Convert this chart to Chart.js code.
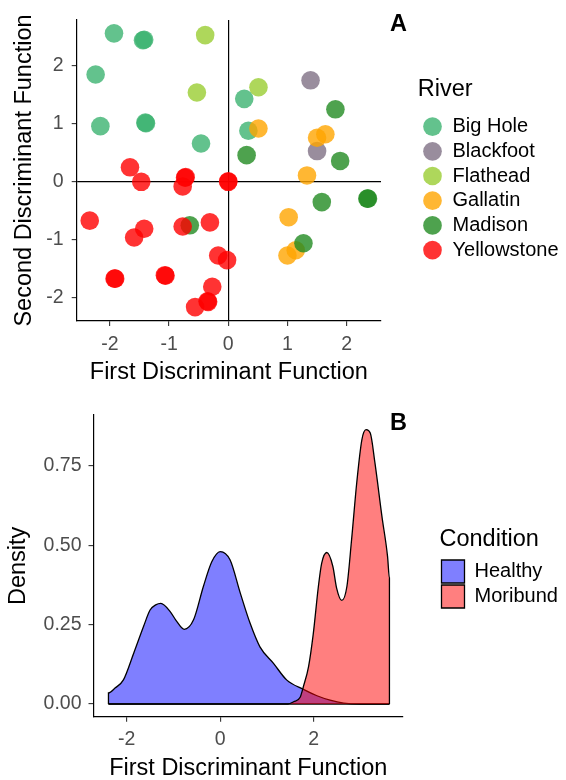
<!DOCTYPE html>
<html>
<head>
<meta charset="utf-8">
<script src="https://cdn.jsdelivr.net/npm/chart.js@4.4.1/dist/chart.umd.min.js"></script>
<style>
  html, body { margin: 0; padding: 0; background: #fff; width: 566px; height: 780px; overflow: hidden; }
  .panel { position: absolute; left: 0; width: 566px; height: 390px; }
</style>
</head>
<body>
<div class="panel" style="top:0"><canvas id="chartA" width="566" height="390"></canvas></div>
<div class="panel" style="top:390px"><canvas id="chartB" width="566" height="390"></canvas></div>
<script>
// Panel A: discriminant scores by river
const riverNames = ["Big Hole", "Blackfoot", "Flathead", "Gallatin", "Madison", "Yellowstone"];
const riverColors = ["rgba(60,179,113,0.8)", "rgba(128,112,132,0.8)", "rgba(154,205,50,0.8)",
                     "rgba(255,165,0,0.8)", "rgba(34,139,34,0.8)", "rgba(255,0,0,0.8)"];

const bigHole = [[-1.93, 2.55], [-2.24, 1.84], [-2.16, 0.95], [-1.44, 2.43], [-1.42, 2.44],
                 [-1.40, 1.01], [-1.39, 1.00], [-0.46, 0.65], [0.27, 1.42], [0.34, 0.87]];
const blackfoot = [[1.39, 1.74], [1.50, 0.52]];
const flathead = [[-0.39, 2.52], [-0.53, 1.53], [0.51, 1.62]];
const gallatin = [[0.51, 0.91], [1.64, 0.81], [1.50, 0.75], [1.33, 0.10], [1.02, -0.62],
                  [1.00, -1.28], [1.14, -1.19]];
const madison = [[1.81, 1.24], [0.31, 0.45], [1.89, 0.35], [1.58, -0.36], [2.35, -0.30],
                 [2.36, -0.30], [1.27, -1.07], [-0.65, -0.76]];
const yellowstone = [[-1.66, 0.24], [-1.47, -0.01], [-0.72, 0.07], [-0.73, 0.06], [-0.77, -0.09],
                     [0.00, -0.01], [0.00, 0.00], [-2.34, -0.68], [-1.59, -0.97], [-1.42, -0.82],
                     [-0.77, -0.78], [-0.31, -0.71], [-0.17, -1.28], [-0.02, -1.36], [-1.91, -1.68],
                     [-1.92, -1.68], [-1.06, -1.63], [-1.07, -1.62], [-0.27, -1.82], [-0.34, -2.08],
                     [-0.35, -2.07], [-0.56, -2.17]];
const riverPoints = [bigHole, blackfoot, flathead, gallatin, madison, yellowstone];
const scoreTicks = [-2, -1, 0, 1, 2];

// Panel B: density of first discriminant function by condition
const conditionNames = ["Healthy", "Moribund"];
const conditionColors = ["rgba(0,0,255,0.5)", "rgba(255,0,0,0.5)"];
const healthyX = [-2.39, -2.39, -2.25, -2.07, -1.85, -1.64, -1.50, -1.38, -1.27, -1.07, -0.93, -0.77,
                  -0.57, -0.36, -0.18, 0.00, 0.21, 0.43, 0.64, 0.85, 1.14, 1.42, 1.78, 2.07, 2.35,
                  2.64, 3.00, 3.62];
const healthyY = [0, 0.035, 0.050, 0.076, 0.160, 0.244, 0.296, 0.312, 0.317, 0.291, 0.260, 0.235,
                  0.265, 0.370, 0.448, 0.480, 0.454, 0.349, 0.254, 0.180, 0.128, 0.076, 0.046, 0.026,
                  0.012, 0.003, 0, 0];
const moribundX = [-2.39, 1.45, 1.57, 1.71, 1.78, 1.89, 1.99, 2.10, 2.17, 2.28, 2.41, 2.49, 2.60,
                   2.71, 2.81, 2.92, 3.03, 3.12, 3.21, 3.31, 3.46, 3.58, 3.62, 3.62];
const moribundY = [0, 0, 0.007, 0.021, 0.055, 0.118, 0.220, 0.370, 0.443, 0.477, 0.433, 0.365, 0.326,
                   0.370, 0.517, 0.696, 0.832, 0.864, 0.853, 0.759, 0.590, 0.464, 0.396, 0];
const densityRange = [-2.39, 3.62];
const densityTicksX = [-2, 0, 2];
const densityTicksY = [0, 0.25, 0.5, 0.75];

Chart.defaults.font.family = "'Liberation Sans', Arial, sans-serif";
Chart.defaults.color = "#000";

const titleFont = { size: 23.5, lineHeight: 1 };
const tickFont = { size: 19.5 };
const toXY = (xs, ys) => xs.map((x, i) => ({ x: x, y: ys[i] }));
const fixedTicks = values => scale => { scale.ticks = values.map(v => ({ value: v })); };

// draws the bold panel letter
const panelTag = {
  id: "panelTag",
  afterDraw(chart, args, opts) {
    const ctx = chart.ctx;
    ctx.save();
    ctx.font = "bold 23.5px 'Liberation Sans', Arial, sans-serif";
    ctx.fillStyle = "#000";
    ctx.textBaseline = "middle";
    ctx.textAlign = "left";
    ctx.fillText(opts.text, opts.x, opts.y);
    ctx.restore();
  }
};

// let the legend use the space up to the right edge (it is clipped to its box)
const legendRoom = {
  id: "legendRoom",
  afterLayout(chart) {
    const lg = chart.legend;
    if (lg) {
      lg.right = chart.width;
      lg.width = lg.right - lg.left;
    }
  }
};

function axis(opts) {
  return {
    type: "linear",
    min: opts.min,
    max: opts.max,
    afterBuildTicks: fixedTicks(opts.ticks),
    afterFit: opts.fit,
    grid: {
      drawOnChartArea: !!opts.zeroLine,
      color: c => (opts.zeroLine && c.tick && c.tick.value === 0) ? "#000" : "rgba(0,0,0,0)",
      lineWidth: 1.2,
      tickColor: "#333",
      tickLength: 5,
      tickWidth: 1.1
    },
    border: { display: true, color: "#000", width: 1.2 },
    ticks: { color: "#4D4D4D", font: tickFont, padding: opts.tickPad, callback: opts.format },
    title: { display: true, text: opts.title, color: "#000", font: titleFont, padding: opts.titlePad }
  };
}

// spacer axis between the plot and the legend
const spacer = w => ({
  type: "linear", position: "right", display: true,
  grid: { display: false }, border: { display: false }, ticks: { display: false },
  afterFit: s => { s.width = w; }
});

new Chart(document.getElementById("chartA"), {
  type: "scatter",
  data: {
    datasets: riverNames.map((name, i) => ({
      label: name,
      data: riverPoints[i].map(p => ({ x: p[0], y: p[1] })),
      backgroundColor: riverColors[i],
      borderWidth: 0,
      pointRadius: 9.3,
      pointHoverRadius: 9.3,
      pointStyle: "circle",
      order: -i
    }))
  },
  options: {
    responsive: false,
    animation: false,
    events: [],
    layout: { padding: { top: 20, right: 64.64, bottom: 0, left: 0 } },
    scales: {
      x: axis({ min: -2.56, max: 2.58, ticks: scoreTicks, zeroLine: true, tickPad: 6.5,
                fit: s => { s.height = 69; }, title: "First Discriminant Function",
                titlePad: { top: 0, bottom: 5.75 } }),
      y: axis({ min: -2.41, max: 2.78, ticks: scoreTicks, zeroLine: true, tickPad: 8,
                fit: s => { s.width = 76.7; }, title: "Second Discriminant Function",
                titlePad: { top: 13.25, bottom: 0 } }),
      gap: spacer(36.8)
    },
    plugins: {
      tooltip: { enabled: false },
      legend: {
        position: "right",
        align: "center",
        fullSize: false,
        title: { display: true, text: "River", position: "start", color: "#000",
                 font: { size: 23.5, lineHeight: 1.2 }, padding: { top: 2, bottom: 5.5 } },
        labels: {
          usePointStyle: true, pointStyle: "circle",
          boxWidth: 20, boxHeight: 13.2, padding: 4.7,
          color: "#000", font: { size: 20 },
          sort: (a, b) => a.datasetIndex - b.datasetIndex
        }
      },
      panelTag: { text: "A", x: 390, y: 25 }
    }
  },
  plugins: [panelTag, legendRoom]
});

const curveStyle = {
  fill: "origin",
  borderColor: "#000",
  borderWidth: 1.3,
  pointRadius: 0,
  pointHoverRadius: 0,
  cubicInterpolationMode: "monotone"
};

new Chart(document.getElementById("chartB"), {
  type: "line",
  data: {
    datasets: [
      Object.assign({ label: conditionNames[0], data: toXY(healthyX, healthyY),
                      backgroundColor: conditionColors[0], order: 2 }, curveStyle),
      Object.assign({ label: conditionNames[1], data: toXY(moribundX, moribundY),
                      backgroundColor: conditionColors[1], order: 0 }, curveStyle),
      { label: "", data: densityRange.map(x => ({ x: x, y: 0 })), fill: false,
        borderColor: "#000", borderWidth: 1.3, pointRadius: 0, order: 1 }
    ]
  },
  options: {
    responsive: false,
    animation: false,
    events: [],
    layout: { padding: { top: 25, right: 38.6, bottom: 0, left: 0 } },
    scales: {
      x: axis({ min: -2.71, max: 3.91, ticks: densityTicksX, tickPad: 6.5,
                fit: s => { s.height = 63.3; }, title: "First Discriminant Function",
                titlePad: { top: 0, bottom: 0 } }),
      y: axis({ min: -0.04, max: 0.91, ticks: densityTicksY, tickPad: 7,
                format: v => v.toFixed(2),
                fit: s => { s.width = 93.5; }, title: "Density",
                titlePad: { top: 7.25, bottom: 0 } }),
      gap: spacer(36.5)
    },
    plugins: {
      tooltip: { enabled: false },
      legend: {
        position: "right",
        align: "center",
        fullSize: false,
        title: { display: true, text: "Condition", position: "start", color: "#000",
                 font: { size: 23.5, lineHeight: 1.2 }, padding: { top: 6, bottom: 2.1 } },
        labels: {
          boxWidth: 23, boxHeight: 23, padding: 2,
          color: "#000", font: { size: 20 },
          filter: item => item.text !== "",
          sort: (a, b) => a.datasetIndex - b.datasetIndex
        }
      },
      panelTag: { text: "B", x: 390, y: 33.3 }
    }
  },
  plugins: [panelTag, legendRoom]
});
</script>
</body>
</html>
